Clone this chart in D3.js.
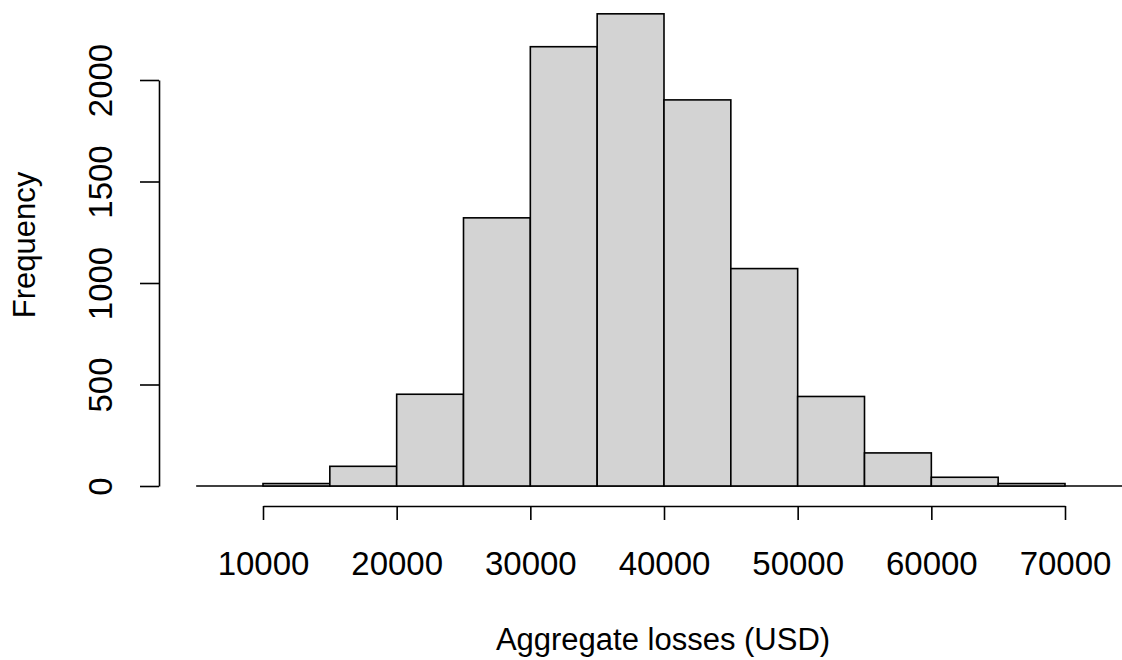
<!DOCTYPE html>
<meta charset="utf-8">
<style>
body { margin: 0; background: #fff; }
text { font-family: "Liberation Sans", Arial, sans-serif; fill: #000; }
.bar { fill: #d3d3d3; stroke: #000; stroke-width: 1.6px; }
.axis path, .axis line { stroke: #000; stroke-width: 1.6px; fill: none; }
</style>
<body>
<script src="https://cdnjs.cloudflare.com/ajax/libs/d3/7.8.5/d3.min.js"></script>
<script>

var width = 1122,
    height = 660;

// histogram bins (lower edge, upper edge) and counts
var binStart = [10000, 15000, 20000, 25000, 30000, 35000, 40000, 45000, 50000, 55000, 60000, 65000];
var binEnd   = [15000, 20000, 25000, 30000, 35000, 40000, 45000, 50000, 55000, 60000, 65000, 70000];
var counts   = [12, 97, 452, 1321, 2164, 2326, 1902, 1071, 441, 163, 43, 12];

var xTicks = [10000, 20000, 30000, 40000, 50000, 60000, 70000];
var yTicks = [0, 500, 1000, 1500, 2000];

var x = d3.scaleLinear().domain([10000, 70000]).range([263, 1065]);
var y = d3.scaleLinear().domain([0, 2000]).range([486, 80]);

var svg = d3.select("body").append("svg")
    .attr("width", width)
    .attr("height", height);

// zero line across the plot region
svg.append("line")
    .attr("x1", x(5000)).attr("x2", x(75000))
    .attr("y1", y(0)).attr("y2", y(0))
    .attr("stroke", "#000")
    .attr("stroke-width", 1.3);

svg.selectAll(".bar")
    .data(counts)
  .enter().append("rect")
    .attr("class", "bar")
    .attr("x", function(d, i) { return x(binStart[i]); })
    .attr("width", function(d, i) { return x(binEnd[i]) - x(binStart[i]); })
    .attr("y", function(d) { return y(d); })
    .attr("height", function(d) { return y(0) - y(d); });

// x axis
var xAxis = svg.append("g")
    .attr("class", "axis")
    .attr("transform", "translate(0,506)")
    .call(d3.axisBottom(x).tickValues(xTicks).tickSize(14).tickSizeOuter(0).tickFormat(d3.format("d")));
xAxis.attr("font-family", null).attr("font-size", null);
xAxis.selectAll("text")
    .attr("y", 69).attr("dy", null)
    .style("font-size", "33px");

// y axis, labels rotated as in R (las = 0)
var yAxis = svg.append("g")
    .attr("class", "axis")
    .attr("transform", "translate(159,0)")
    .call(d3.axisLeft(y).tickValues(yTicks).tickSize(19).tickSizeOuter(0).tickFormat(d3.format("d")));
yAxis.attr("font-family", null).attr("font-size", null);
yAxis.selectAll("text")
    .attr("x", 0).attr("y", 0).attr("dy", null)
    .attr("text-anchor", "middle")
    .attr("transform", "translate(-47,0) rotate(-90)")
    .style("font-size", "33px");

// axis titles
svg.append("text")
    .attr("x", 663)
    .attr("y", 650)
    .attr("text-anchor", "middle")
    .style("font-size", "31px")
    .text("Aggregate losses (USD)");

svg.append("text")
    .attr("transform", "translate(35,245) rotate(-90)")
    .attr("text-anchor", "middle")
    .style("font-size", "31px")
    .text("Frequency");

</script>
